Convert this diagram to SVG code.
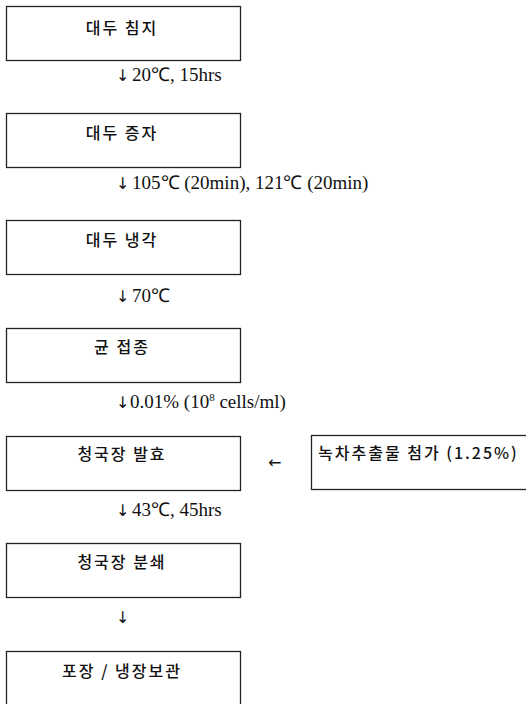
<svg xmlns="http://www.w3.org/2000/svg" width="526" height="704" viewBox="0 0 526 704">
<style>
.box{fill:#fff;stroke:#222;stroke-width:1.3}
.kt{font-family:"Noto Sans CJK KR","Noto Sans",sans-serif;font-size:16px;font-weight:500;fill:#111;text-anchor:middle;letter-spacing:2px}
.lb{font-family:"Liberation Serif",serif;font-size:19px;fill:#111}
.ar{font-family:"DejaVu Sans",sans-serif;font-size:16px;fill:#111}
</style>
<rect width="526" height="704" fill="#fff"/>
<g id="n1"><rect class="box" x="6.5" y="6.5" width="234" height="54"/><text class="kt" x="122" y="34">대두 침지</text></g>
<g id="n2"><rect class="box" x="6.5" y="113.5" width="234" height="54"/><text class="kt" x="122" y="139">대두 증자</text></g>
<g id="n3"><rect class="box" x="6.5" y="220.5" width="234" height="54"/><text class="kt" x="122" y="246">대두 냉각</text></g>
<g id="n4"><rect class="box" x="6.5" y="328.5" width="234" height="54"/><text class="kt" x="122" y="353">균 접종</text></g>
<g id="n5"><rect class="box" x="6.5" y="436.5" width="234" height="54"/><text class="kt" x="122" y="460">청국장 발효</text></g>
<g id="n6"><rect class="box" x="311.5" y="435.5" width="220" height="54"/><text class="kt" x="318" y="459" style="text-anchor:start;letter-spacing:2px">녹차추출물 첨가 (1.25%)</text></g>
<g id="n7"><rect class="box" x="6.5" y="543.5" width="234" height="54"/><text class="kt" x="122" y="568">청국장 분쇄</text></g>
<g id="n8"><rect class="box" x="6.5" y="651.5" width="234" height="60"/><text class="kt" x="122" y="677">포장 / 냉장보관</text></g>
<g id="connectors">
<text class="ar" x="116" y="81">↓</text><text class="lb" x="132" y="81">20℃, 15hrs</text>
<text class="ar" x="116" y="189">↓</text><text class="lb" x="132" y="189">105℃ (20min), 121℃ (20min)</text>
<text class="ar" x="116" y="302">↓</text><text class="lb" x="132" y="302">70℃</text>
<text class="ar" x="116" y="408">↓</text><text class="lb" x="130" y="408">0.01% (10<tspan font-size="11" dy="-7">8</tspan><tspan dy="7"> cells/ml)</tspan></text>
<text class="ar" x="268" y="468">←</text>
<text class="ar" x="116" y="516">↓</text><text class="lb" x="132" y="516">43℃, 45hrs</text>
<text class="ar" x="116" y="623">↓</text>
</g>
</svg>
